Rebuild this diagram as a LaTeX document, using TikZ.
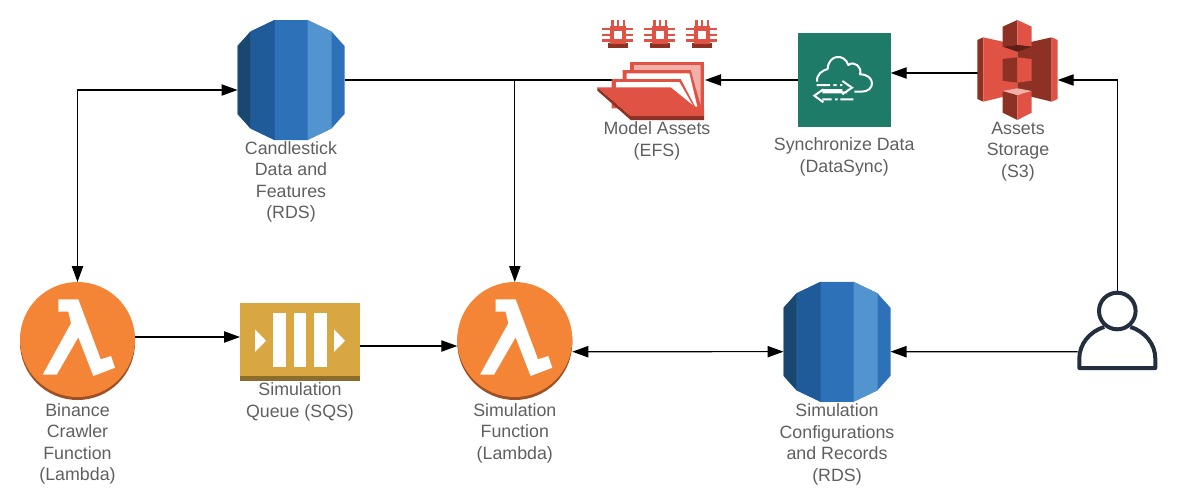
\documentclass[tikz,border=0pt]{standalone}
\usepackage{fontspec}
\setmainfont{Liberation Sans}
\usetikzlibrary{arrows.meta, positioning}

\definecolor{rdsdark}{HTML}{1A476F}
\definecolor{rdsmid}{HTML}{1F5B98}
\definecolor{rdsmain}{HTML}{2D72B8}
\definecolor{rdslight}{HTML}{5294CF}
\definecolor{lamfill}{HTML}{F58536}
\definecolor{lamedge}{HTML}{9D5025}
\definecolor{sqsfill}{HTML}{D9A741}
\definecolor{sqsedge}{HTML}{8C6D2C}
\definecolor{awsred}{HTML}{E05243}
\definecolor{awsdark}{HTML}{8C3123}
\definecolor{awsdeep}{HTML}{5E1F18}
\definecolor{awspink}{HTML}{F2B0A9}
\definecolor{syncfill}{HTML}{1E7B68}
\definecolor{userline}{HTML}{232F3E}
\definecolor{labeltext}{HTML}{5F5F5F}

\tikzset{
  icon/.style={inner sep=0pt,outer sep=0pt,minimum width=#1},
  caption/.style={align=center,inner sep=0pt,text=labeltext,font=\fontsize{13.35}{16.1}\selectfont},
  rdsicon/.pic={
    \fill[rdsmain] (-53.5,-34) -- (-40.5,-48.5) -- (-16.5,-60) -- (16.5,-60) -- (40.5,-48.5) -- (53.5,-34)
      -- (53.5,34) -- (40.5,48.5) -- (16.5,60) -- (-16.5,60) -- (-40.5,48.5) -- (-53.5,34) -- cycle;
    \fill[rdsdark] (-53.5,-34) -- (-40.5,-48.5) -- (-40.5,48.5) -- (-53.5,34) -- cycle;
    \fill[rdsmid] (-40.5,-48.5) -- (-16.5,-60) -- (-16.5,60) -- (-40.5,48.5) -- cycle;
    \fill[rdslight] (16.5,-60) -- (40.5,-48.5) -- (40.5,48.5) -- (16.5,60) -- cycle;
  },
  lambdaicon/.pic={
    \fill[lamedge] (0,3) circle (57.5);
    \fill[lamfill] (0,0) circle (57.5);
    \fill[white] (-19.2,-40.2) -- (.8,-40.2) -- (23.2,19.8) -- (33.5,16.5) -- (37.5,28.2) -- (15.8,36.5)
      -- (.8,-2.2) -- (-20.8,35.2) -- (-34.8,35.2) -- (-6.5,-16.2) -- (-9.2,-27.8) -- (-19.2,-27.8) -- cycle;
  },
  sqsicon/.pic={
    \fill[sqsfill] (-60,-39) rectangle (60,34);
    \fill[sqsedge] (-60,34) rectangle (60,39);
    \foreach \bx in {-26.7,-6.3,14} \fill[white] (\bx,-29.3) rectangle ++(12.7,54.6);
    \fill[white] (-45,-12.7) -- (-34,-1.3) -- (-45,10) -- cycle;
    \fill[white] (34,-12.7) -- (45,-1.3) -- (34,10) -- cycle;
  },
  chipicon/.pic={
    \fill[awsdark] (-9.7,8.6) rectangle (10.3,13.6);
    \fill[awsred] (-8,-8.7) rectangle (8,9);
    \foreach \cx in {-5.7,0,5.7} {
      \fill[awsred] (\cx-1.2,-14.7) rectangle (\cx+1.2,-8);
      \fill[awsred] (-15.7,\cx-1.2) rectangle (15.3,\cx+1.2);
    }
    \fill[white] (-4.3,-3.7) rectangle (3.7,4.3);
  },
  efsicon/.pic={
    \begin{scope}[x=.25pt,y=-.25pt,shift={(-214.5,-241.5)}]
      \fill[awsred] (150,155) -- (372,155) -- (372,330) -- (150,330) -- cycle;
      \fill[awspink] (162,165) -- (362,165) -- (362,285) -- (332,180) -- (162,180) -- cycle;
      \fill[awsred] (128,180) -- (332,180) -- (358,295) -- (128,295) -- cycle;
      \fill[white] (140,190) -- (328,190) -- (352,290) -- (140,290) -- cycle;
      \fill[awsred] (95,207) -- (302,207) -- (348,295) -- (95,295) -- cycle;
      \fill[white] (108,216) -- (298,216) -- (342,292) -- (108,292) -- cycle;
      \fill[awsdark] (52,232) -- (152,318) -- (372,318) -- (372,330) -- (152,330) -- (52,242) -- cycle;
      \fill[awsred] (52,232) -- (272,232) -- (350,295) -- (372,295) -- (372,318) -- (152,318) -- cycle;
    \end{scope}
  },
  syncicon/.pic={
    \fill[syncfill] (-46.5,-46.7) rectangle (46.5,46.7);
    \begin{scope}[x=.25pt,y=-.25pt,shift={(-117.6,-105)}]
      \draw[-,white,line width=1.5pt,line join=round]
        (36,110) .. controls (34,88) and (52,76) .. (68,72)
        .. controls (70,28) and (118,24) .. (130,60)
        .. controls (148,46) and (172,66) .. (165,88)
        .. controls (212,88) and (212,140) .. (170,140) -- (148,140);
      \draw[-,white,line width=1.5pt] (35,120) -- (75,120) (85,120) -- (95,120) (105,120) -- (112,120)
        (112,108) -- (141,128) -- (112,148) (112,135) -- (52,135)
        (55,133) -- (28,152) -- (55,172) (52,142) -- (126,142)
        (52,163) -- (80,163) (90,163) -- (98,163) (106,163) -- (145,163);
    \end{scope}
  },
  sthreeicon/.pic={
    \begin{scope}[x=.25pt,y=-.25pt,shift={(-174,-180)}]
      \fill[awsdark] (52,90) -- (70,82) -- (70,275) -- (52,267) -- cycle;
      \fill[awsred] (70,82) -- (172,105) -- (172,250) -- (70,275) -- cycle;
      \fill[awsdark] (275,82) -- (172,105) -- (172,250) -- (275,275) -- cycle;
      \fill[awsred] (275,82) -- (293,90) -- (293,267) -- (275,275) -- cycle;
      \fill[awsdark] (128,50) -- (172,30) -- (172,105) -- (128,110) -- cycle;
      \fill[awsred] (172,30) -- (215,50) -- (215,110) -- (172,105) -- cycle;
      \fill[awsdeep] (128,110) -- (172,105) -- (215,110) -- (172,125) -- cycle;
      \fill[awsdark] (128,147) -- (172,142) -- (172,218) -- (128,212) -- cycle;
      \fill[awsred] (172,142) -- (215,147) -- (215,212) -- (172,218) -- cycle;
      \fill[awsdark] (128,243) -- (172,255) -- (172,330) -- (128,308) -- cycle;
      \fill[awsred] (172,255) -- (215,243) -- (215,308) -- (172,330) -- cycle;
      \fill[awspink] (128,243) -- (172,235) -- (215,243) -- (172,255) -- cycle;
    \end{scope}
  },
  usericon/.pic={
    \draw[-,userline,line width=3pt,line join=round] (0,-19.5) circle (18.3);
    \draw[-,userline,line width=3pt,line join=round]
      (-13,-3.5) .. controls (-28,1) and (-38,14) .. (-38,28) -- (-38,37.5) -- (38,37.5) -- (38,28)
      .. controls (38,14) and (28,1) .. (13,-3.5);
  },
}

\begin{document}
\begin{tikzpicture}[->,>={Triangle[length=12pt,width=8.5pt]},x=.75pt,y=-.75pt,line width=.85pt]
\useasboundingbox (0,0) rectangle (1178,500);
\node[icon=80.25pt,minimum height=90pt] (rdsA) at (291,80) {};
\node[icon=86.25pt,minimum height=86.25pt] (lamA) at (77.5,339.5) {};
\node[icon=90pt,minimum height=58.5pt] (sqs) at (300,342) {};
\node[icon=86.25pt,minimum height=86.25pt] (lamB) at (514.8,339.5) {};
\node[icon=80.25pt,minimum height=90pt] (rdsB) at (837,341.8) {};
\node[icon=80.25pt,minimum height=44.25pt] (efs) at (651.5,90.5) {};
\node[icon=69.75pt,minimum height=70pt] (sync) at (844.2,80) {};
\node[icon=59.6pt,minimum height=75pt] (sthree) at (1018,70) {};
\node[icon=59.6pt,minimum height=59.25pt] (user) at (1117.3,330.5) {};
\coordinate (fork) at (lamB.north |- rdsA.east);

\node[caption,below=.75pt of rdsA] (rdsAtext) {Candlestick\\Data and\\Features\\(RDS)};
\node[caption,below=4.5pt of lamA] (lamAtext) {Binance\\Crawler\\Function\\(Lambda)};
\node[caption,below=1pt of sqs] (sqstext) {Simulation\\Queue (SQS)};
\node[caption,below=4.5pt of lamB] (lamBtext) {Simulation\\Function\\(Lambda)};
\node[caption,below=1pt of rdsB] (rdsBtext) {Simulation\\Configurations\\and Records\\(RDS)};
\node[caption,below=1pt of efs,xshift=4.1pt] (efstext) {Model Assets\\(EFS)};
\node[caption,below=8pt of sync] (synctext) {Synchronize Data\\(DataSync)};
\node[caption,below=1pt of sthree] (sthreetext) {Assets\\Storage\\(S3)};

\draw[<->] (lamA.north) |- ([yshift=-7.5pt]rdsA.west);
\draw (rdsA.east) -| (lamB.north);
\draw[-] (fork) -- ([shift={(10.5pt,7.875pt)}]efs.west);
\draw (sync.west) -- ([yshift=7.875pt]efs.east);
\draw ([yshift=-2.25pt]sthree.west) -- ([yshift=5.25pt]sync.east);
\draw (user.north) |- ([yshift=-7.5pt]sthree.east);
\draw (user.west |- rdsB.east) ++(0,10) -- ([yshift=-7.4pt]rdsB.east);
\draw ([yshift=1.875pt]lamA.east) -- ([yshift=3.75pt]sqs.west);
\draw ([yshift=-3pt]sqs.east) -- ([yshift=-4.875pt]lamB.west);
\draw[<->] ([yshift=-9.15pt]lamB.east) -- ([yshift=-7.4pt]rdsB.west);

\pic at (rdsA) {rdsicon};
\pic at (rdsB) {rdsicon};
\pic at (lamA) {lambdaicon};
\pic at (lamB) {lambdaicon};
\pic at (sqs) {sqsicon};
\pic at (efs) {efsicon};
\foreach \chipx in {618,660,702} \pic at (\chipx,34.7) {chipicon};
\pic at (sync) {syncicon};
\pic at (sthree) {sthreeicon};
\pic at (user) {usericon};
\end{tikzpicture}
\end{document}
